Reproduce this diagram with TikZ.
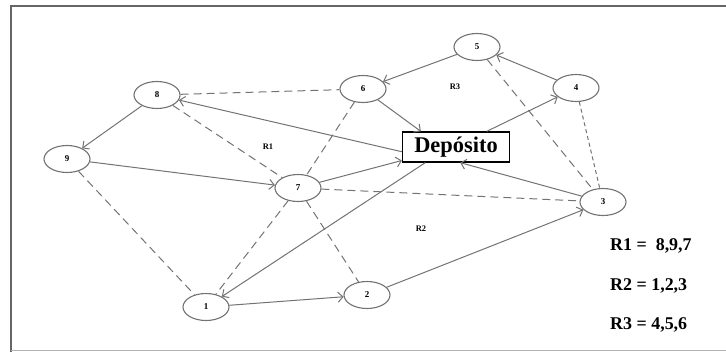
\documentclass[tikz,border=0pt]{standalone}
\usepackage{fontspec}
\setmainfont{Liberation Serif}
\usetikzlibrary{shapes.geometric,arrows.meta}
\begin{document}
\begin{tikzpicture}[x=1bp,y=-1bp,
  punto/.style={ellipse,draw=black!55,line width=1.1bp,minimum width=46bp,minimum height=27bp,inner sep=0pt,font=\fontsize{9}{10}\selectfont\bfseries},
  ruta/.style={draw=black!55,line width=1bp,-{Straight Barb[length=5bp,width=10bp]}},
  enlace/.style={draw=black!55,line width=1bp,dash pattern=on 8bp off 5bp},
  region/.style={font=\fontsize{8.5}{9}\selectfont\bfseries},
  leyenda/.style={anchor=west,inner sep=0pt,font=\fontsize{18}{19}\selectfont\bfseries}]
\useasboundingbox (0,0) rectangle (726,352);
\draw[black!60,line width=2.5bp] (726,6) -- (11,6) -- (11,352);
\draw[black!30,line width=1bp] (11,350.5) -- (726,350.5);
\node[punto] (n5) at (477,47) {5};
\node[punto] (n4) at (576,88) {4};
\node[punto] (n6) at (363,89) {6};
\node[punto] (n8) at (157,95) {8};
\node[punto] (n9) at (67,159) {9};
\node[punto] (n7) at (298,188) {7};
\node[punto] (n3) at (603,202) {3};
\node[punto] (n1) at (206,307) {1};
\node[punto] (n2) at (367,295) {2};
\node[draw=black,line width=1.3bp,fill=white,minimum width=107bp,minimum height=30bp,inner sep=1bp,font=\fontsize{22.5}{23}\selectfont\bfseries] (dep) at (456,147) {Depósito};
\node[region] (r1) at (268,147) {R1};
\node[region] (r2) at (421,229) {R2};
\node[region] (r3) at (455,87) {R3};
\draw[enlace] (n8) -- (n6);
\draw[enlace] (n6) -- (n7);
\draw[enlace] (n8) -- (n7);
\draw[enlace] (n9) -- (n1);
\draw[enlace] (n7) -- (n1);
\draw[enlace] (n7) -- (n2);
\draw[enlace] (n7) -- (n3);
\draw[enlace] (n5) -- (n3);
\draw[enlace,dash pattern=on 4bp off 3bp] (n4) -- (n3);
\draw[ruta] (n5) -- (n6);
\draw[ruta] (n4) -- (n5);
\draw[ruta] (n6) -- (dep.156);
\draw[ruta] (dep.185) -- (n8);
\draw[ruta] (dep.27) -- (n4);
\draw[ruta] (n8) -- (n9);
\draw[ruta] (n9) -- (n7);
\draw[ruta] (n7) -- (dep.194);
\draw[ruta] (dep.207) -- (n1);
\draw[ruta] (n1) -- (n2);
\draw[ruta] (n2) -- (n3);
\draw[ruta] (n3) -- (dep.285);
\node[leyenda] (l1) at (610,246) {R1 =~ 8,9,7};
\node[leyenda] (l2) at (610,286) {R2 = 1,2,3};
\node[leyenda] (l3) at (610,325) {R3 = 4,5,6};
\end{tikzpicture}
\end{document}
